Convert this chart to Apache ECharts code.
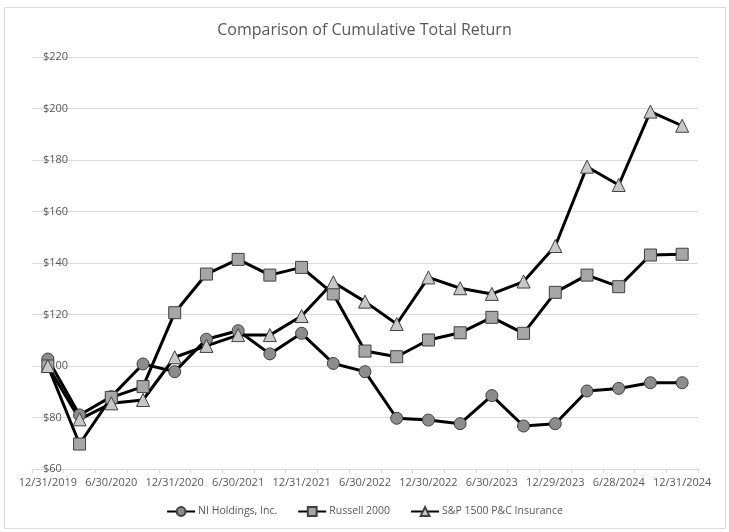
<!DOCTYPE html>
<html>
<head>
<meta charset="utf-8">
<script src="https://cdn.jsdelivr.net/npm/echarts@6/dist/echarts.min.js"></script>
<style>
html,body{margin:0;padding:0;background:#fff;}
#c{width:729px;height:532px;}
</style>
</head>
<body>
<div id="c"></div>
<script>
const categories = ["12/31/2019","3/31/2020","6/30/2020","9/30/2020","12/31/2020","3/31/2021","6/30/2021","9/30/2021","12/31/2021","3/31/2022","6/30/2022","9/30/2022","12/30/2022","3/31/2023","6/30/2023","9/29/2023","12/29/2023","3/28/2024","6/28/2024","9/30/2024","12/31/2024"];
const niHoldings = [102.7,81.0,88.1,100.8,97.8,110.4,113.7,104.7,112.7,101.0,97.8,79.7,79.0,77.6,88.5,76.7,77.6,90.3,91.3,93.5,93.5];
const russell2000 = [100,69.7,87.8,92.0,120.7,135.7,141.4,135.3,138.3,128.0,105.8,103.6,110.1,112.9,118.9,112.7,128.6,135.3,130.8,143.1,143.4];
const sp1500PC = [100,79.3,85.5,86.8,103.4,107.8,112.0,112.0,119.4,132.5,125.0,116.3,134.4,130.2,128.0,132.8,146.6,177.4,170.3,198.8,193.3];
const yTicks = {min:60, max:220, interval:20};
const seriesNames = ["NI Holdings, Inc.","Russell 2000","S&P 1500 P&C Insurance"];

const FONT = "Open Sans";
const chart = echarts.init(document.getElementById('c'), null, {renderer:'canvas'});
function mk(name, data, symbol, size, fill){
  return {
    name, type:'line', data, symbol, symbolSize:size, showAllSymbol:true,
    lineStyle:{color:'#000', width:3},
    itemStyle:{color:fill, borderColor:'#404040', borderWidth:1},
    emphasis:{disabled:true}, animation:false, z:2
  };
}
chart.setOption({
  animation:false,
  backgroundColor:'#fff',
  graphic:[{type:'rect', shape:{x:4.5,y:7.5,width:721,height:521}, style:{fill:'none', stroke:'#d9d9d9', lineWidth:1}, silent:true, z:-1}],
  title:{text:'Comparison of Cumulative Total Return', left:'center', top:17,
    textStyle:{fontFamily:FONT, fontSize:16, fontWeight:'normal', color:'#595959'}},
  legend:{bottom:10, left:'center', itemWidth:28, itemHeight:11, itemGap:20,
    data:seriesNames,
    textStyle:{fontFamily:FONT, fontSize:10.5, color:'#595959', padding:[0,0,0,-2]}},
  grid:{left:32, right:31, top:57, bottom:63, containLabel:false},
  xAxis:{type:'category', data:categories, boundaryGap:true,
    axisLine:{lineStyle:{color:'#d9d9d9', width:1}},
    axisTick:{show:true, interval:0, length:4, lineStyle:{color:'#d9d9d9'}},
    axisLabel:{interval:1, fontFamily:FONT, fontSize:11, color:'#595959', margin:8}},
  yAxis:{type:'value', min:yTicks.min, max:yTicks.max, interval:yTicks.interval,
    axisLine:{show:false}, axisTick:{show:false},
    splitLine:{lineStyle:{color:'#d9d9d9', width:1}},
    axisLabel:{inside:true, margin:11, fontFamily:FONT, fontSize:11, color:'#595959',
      formatter:v=>'$'+v}},
  series:[
    mk(seriesNames[0], niHoldings, 'circle', 12, '#8c8c8c'),
    mk(seriesNames[1], russell2000, 'rect', 12, '#a6a6a6'),
    mk(seriesNames[2], sp1500PC, 'triangle', 13, '#c8c8c8')
  ]
});
</script>
</body>
</html>
